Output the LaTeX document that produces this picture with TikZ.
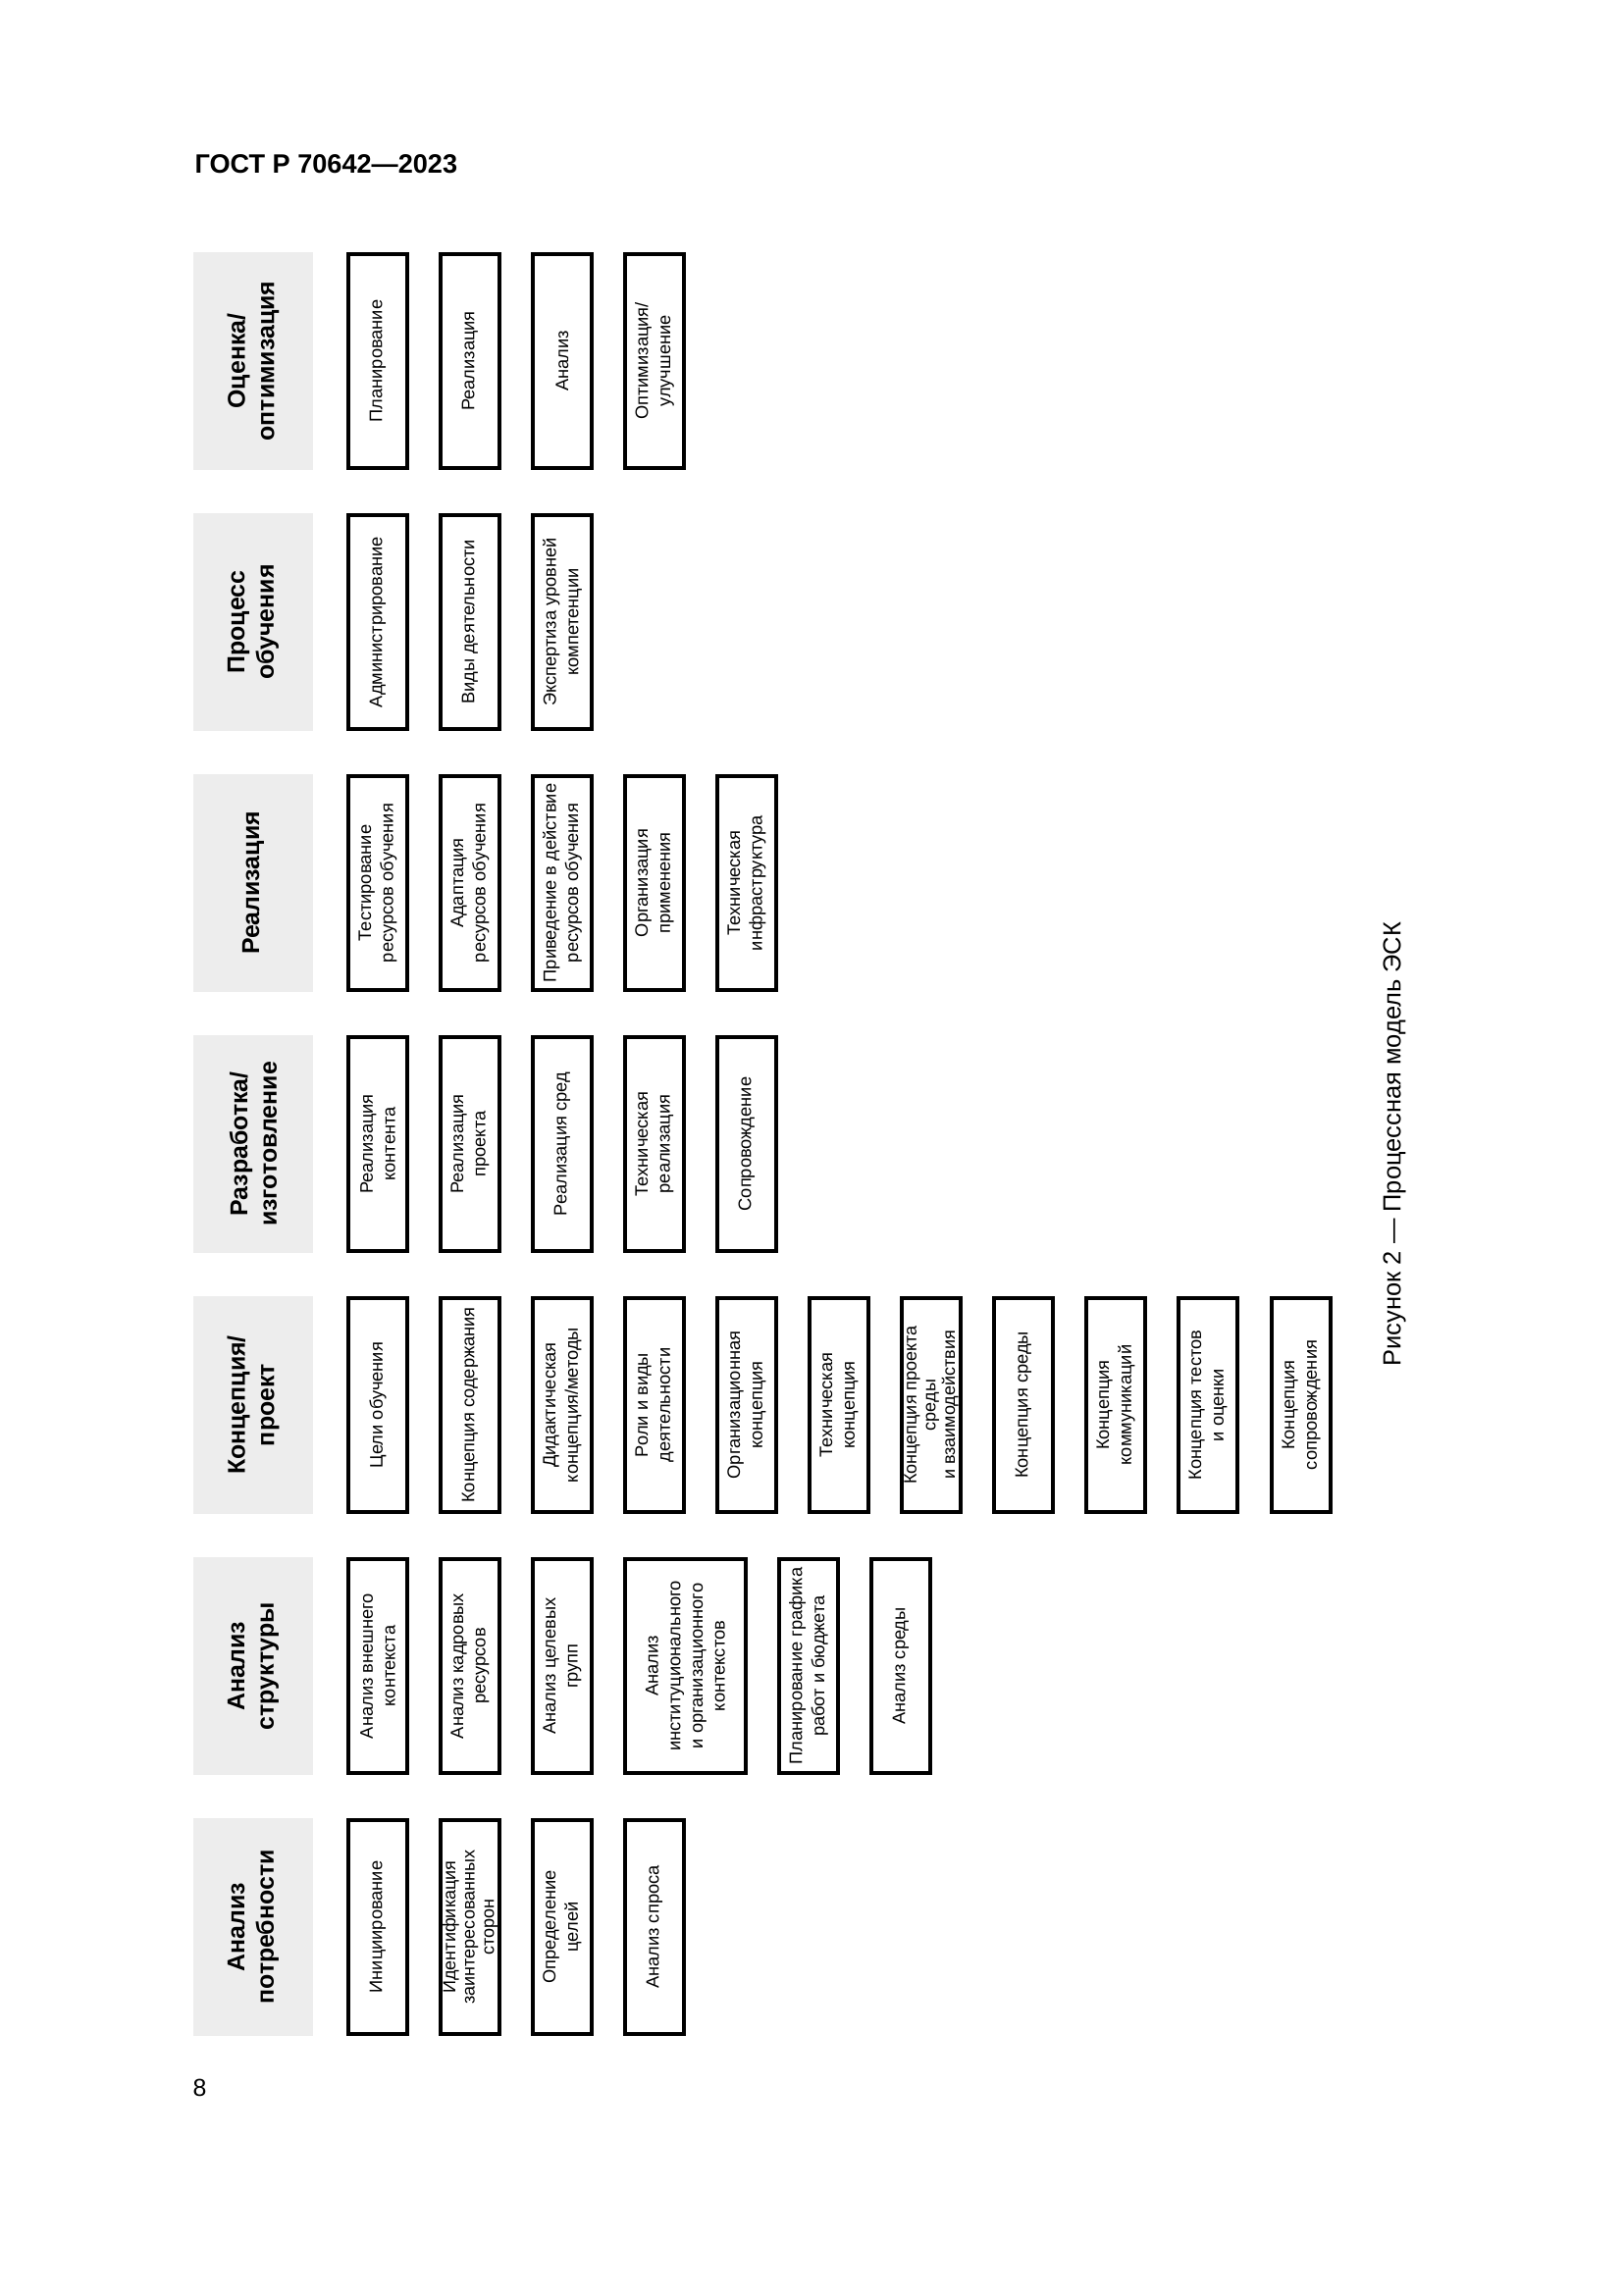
\documentclass[tikz,border=0pt]{standalone}
\usepackage{fontspec}
\setmainfont{Liberation Sans}
\definecolor{hdrgray}{HTML}{EDEDED}
\newcommand\itm[5]{%
  \node[#4] (#1) at (#2,#3) {};
  \node[itemtext] (#1t) at (#1.center) {#5};}
\newcommand\itmtight[5]{%
  \node[#4] (#1) at (#2,#3) {};
  \node[itemtext, tighttext] (#1t) at (#1.center) {#5};}
\begin{document}
\begin{tikzpicture}[x=0.127mm,y=-0.127mm,
  stagebox/.style={rotate=90, fill=hdrgray, draw=none, minimum width=28.2mm, minimum height=15.5mm, inner sep=1pt, align=center, font=\fontsize{9}{10.8}\selectfont\bfseries},
  itembox/.style={rotate=90, draw=black, line width=1.4pt, fill=white, minimum width=27.7mm, minimum height=7.6mm, inner sep=0pt},
  widebox/.style={itembox, minimum height=15.6mm},
  itemtext/.style={rotate=90, inner sep=0pt, align=center, font=\fontsize{6.6}{8.2}\selectfont},
  tighttext/.style={font=\fontsize{6.5}{7.1}\selectfont},
  pagetext/.style={inner sep=0pt}
]
\useasboundingbox (0,0) rectangle (1654,2339);

% page header, number, caption
\node[pagetext, anchor=base west, font=\fontsize{9.8}{12}\selectfont\bfseries] (title) at (198,177) {ГОСТ Р 70642—2023};
\node[pagetext, font=\fontsize{9}{11}\selectfont] (pnum) at (203.5,2127.5) {8};
\node[pagetext, rotate=90, font=\fontsize{9.2}{11}\selectfont] (cap) at (1421,1166) {Рисунок 2 — Процессная модель ЭСК};

% row 0: Оценка/оптимизация
\node[stagebox] (h0) at (258,368) {Оценка/\\оптимизация};
\itm{b0-1}{385}{368}{itembox}{Планирование}
\itm{b0-2}{479}{368}{itembox}{Реализация}
\itm{b0-3}{573}{368}{itembox}{Анализ}
\itm{b0-4}{667}{368}{itembox}{Оптимизация/\\улучшение}

% row 1: Процесс обучения
\node[stagebox] (h1) at (258,634) {Процесс\\обучения};
\itm{b1-1}{385}{634}{itembox}{Администрирование}
\itm{b1-2}{479}{634}{itembox}{Виды деятельности}
\itm{b1-3}{573}{634}{itembox}{Экспертиза уровней\\компетенции}

% row 2: Реализация
\node[stagebox] (h2) at (258,900) {Реализация};
\itm{b2-1}{385}{900}{itembox}{Тестирование\\ресурсов обучения}
\itm{b2-2}{479}{900}{itembox}{Адаптация\\ресурсов обучения}
\itm{b2-3}{573}{900}{itembox}{Приведение в действие\\ресурсов обучения}
\itm{b2-4}{667}{900}{itembox}{Организация\\применения}
\itm{b2-5}{761}{900}{itembox}{Техническая\\инфраструктура}

% row 3: Разработка/изготовление
\node[stagebox] (h3) at (258,1166) {Разработка/\\изготовление};
\itm{b3-1}{385}{1166}{itembox}{Реализация\\контента}
\itm{b3-2}{479}{1166}{itembox}{Реализация\\проекта}
\itm{b3-3}{573}{1166}{itembox}{Реализация сред}
\itm{b3-4}{667}{1166}{itembox}{Техническая\\реализация}
\itm{b3-5}{761}{1166}{itembox}{Сопровождение}

% row 4: Концепция/проект
\node[stagebox] (h4) at (258,1432) {Концепция/\\проект};
\itm{b4-1}{385}{1432}{itembox}{Цели обучения}
\itm{b4-2}{479}{1432}{itembox}{Концепция содержания}
\itm{b4-3}{573}{1432}{itembox}{Дидактическая\\концепция/методы}
\itm{b4-4}{667}{1432}{itembox}{Роли и виды\\деятельности}
\itm{b4-5}{761}{1432}{itembox}{Организационная\\концепция}
\itm{b4-6}{855}{1432}{itembox}{Техническая\\концепция}
\itmtight{b4-7}{949}{1432}{itembox}{Концепция проекта\\среды\\и взаимодействия}
\itm{b4-8}{1043}{1432}{itembox}{Концепция среды}
\itm{b4-9}{1137}{1432}{itembox}{Концепция\\коммуникаций}
\itm{b4-10}{1231}{1432}{itembox}{Концепция тестов\\и оценки}
\itm{b4-11}{1326}{1432}{itembox}{Концепция\\сопровождения}

% row 5: Анализ структуры
\node[stagebox] (h5) at (258,1698) {Анализ\\структуры};
\itm{b5-1}{385}{1698}{itembox}{Анализ внешнего\\контекста}
\itm{b5-2}{479}{1698}{itembox}{Анализ кадровых\\ресурсов}
\itm{b5-3}{573}{1698}{itembox}{Анализ целевых\\групп}
\itm{b5-4}{698.5}{1698}{widebox}{Анализ\\институционального\\и организационного\\контекстов}
\itm{b5-5}{824}{1698}{itembox}{Планирование графика\\работ и бюджета}
\itm{b5-6}{918}{1698}{itembox}{Анализ среды}

% row 6: Анализ потребности
\node[stagebox] (h6) at (258,1964) {Анализ\\потребности};
\itm{b6-1}{385}{1964}{itembox}{Инициирование}
\itmtight{b6-2}{479}{1964}{itembox}{Идентификация\\заинтересованных\\сторон}
\itm{b6-3}{573}{1964}{itembox}{Определение\\целей}
\itm{b6-4}{667}{1964}{itembox}{Анализ спроса}
\end{tikzpicture}
\end{document}
